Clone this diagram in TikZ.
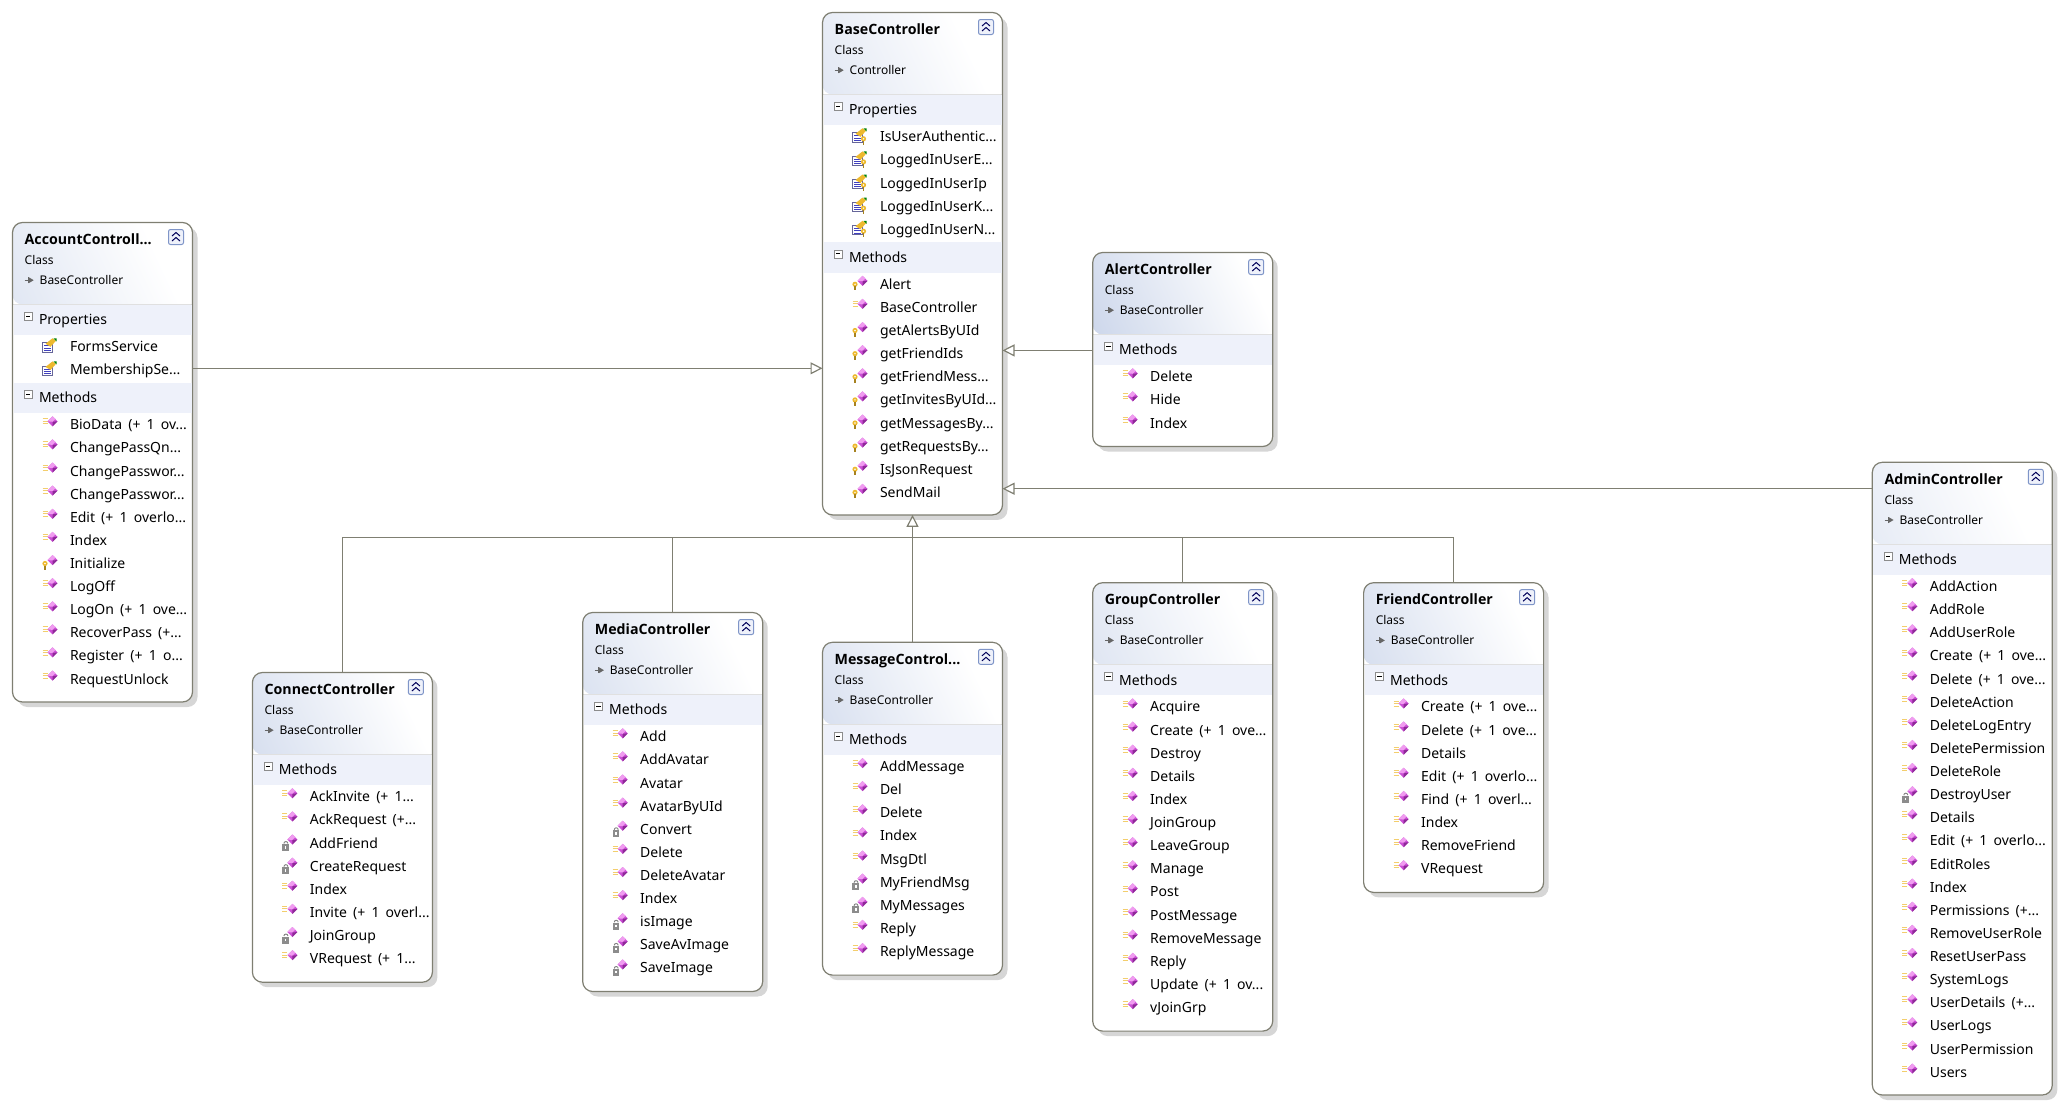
\documentclass[tikz,border=0pt]{standalone}
\usepackage{fontspec}
\setmainfont{Noto Sans}[WordSpace=1.7]
\newfontfamily\titlefont{Open Sans}[BoldFont={Open Sans Bold}]
\usetikzlibrary{arrows.meta,positioning,shadows}

\definecolor{framegray}{HTML}{7F7F72}
\definecolor{shadowgray}{HTML}{D6D6D6}
\definecolor{headblue}{HTML}{C8D3E9}
\definecolor{bandblue}{HTML}{EEF1FA}
\definecolor{diamondpink}{HTML}{CC4FD6}
\definecolor{diamondlight}{HTML}{F09CF0}
\definecolor{diamonddark}{HTML}{8E2A98}
\definecolor{keyyellow}{HTML}{EDB92E}
\definecolor{buttonblue}{HTML}{7F95C8}

% small pictures that sit in front of the text lines
\newsavebox{\pubicon}
\newsavebox{\proticon}
\newsavebox{\privicon}
\newsavebox{\propicon}
\newsavebox{\propkicon}
\newsavebox{\inhicon}
\newsavebox{\foldicon}
\newcommand{\gem}{%
  \fill[diamondpink] (11,5.5) -- (16,10.5) -- (11,15.5) -- (6,10.5) -- cycle;
  \fill[diamondlight] (11,15.5) -- (6,10.5) -- (11,10) -- (14,13) -- cycle;
  \fill[diamonddark] (11,5.5) -- (16,10.5) -- (11,10) -- cycle;}
\newcommand{\keyshape}[2]{%
  \fill[keyyellow] (#1,#2) circle (2.6);
  \fill[white] (#1,#2) circle (0.8);
  \draw[keyyellow!70!black,line width=1.3pt] (#1,#2-2) -- (#1,#2-6);}
\sbox{\pubicon}{\tikz[x=1pt,y=1pt,baseline=(current bounding box.south)]{
  \useasboundingbox (0,0) rectangle (16,16);
  \draw[keyyellow!70!white,line width=.9pt] (1,8) -- (6,8) (1,10.5) -- (6,10.5) (1,13) -- (6,13);
  \gem}}
\sbox{\proticon}{\tikz[x=1pt,y=1pt,baseline=(current bounding box.south)]{
  \useasboundingbox (0,0) rectangle (16,16);
  \keyshape{3.5}{7}
  \gem}}
\sbox{\privicon}{\tikz[x=1pt,y=1pt,baseline=(current bounding box.south)]{
  \useasboundingbox (0,0) rectangle (16,16);
  \draw[gray,line width=.9pt] (2.5,6.5) arc (180:0:2);
  \fill[black!45] (0.8,-1) rectangle (7.7,6);
  \fill[white] (3.6,1.5) rectangle (5,4);
  \gem}}
\sbox{\propicon}{\tikz[x=1pt,y=1pt,baseline=(current bounding box.south)]{
  \useasboundingbox (0,0) rectangle (16,16);
  \draw[fill=white,draw=gray!80!blue,line width=.8pt] (0.5,1.5) rectangle (11,11);
  \draw[blue!50!gray,line width=.8pt] (2.5,8) -- (9,8) (2.5,5.5) -- (9,5.5) (2.5,3.3) -- (9,3.3);
  \fill[keyyellow] (4,10) -- (11,15.5) -- (14.5,13) -- (9,7) -- cycle;
  \fill[green!50!black] (12,15.5) -- (15,15.5) -- (15,12.5) -- cycle;}}
\sbox{\propkicon}{\tikz[x=1pt,y=1pt,baseline=(current bounding box.south)]{
  \useasboundingbox (0,0) rectangle (16,16);
  \draw[fill=white,draw=gray!80!blue,line width=.8pt] (0.5,1.5) rectangle (11,11);
  \draw[blue!50!gray,line width=.8pt] (2.5,8) -- (9,8) (2.5,5.5) -- (9,5.5) (2.5,3.3) -- (9,3.3);
  \fill[keyyellow] (4,10) -- (11,15.5) -- (14.5,13) -- (9,7) -- cycle;
  \fill[green!50!black] (12,15.5) -- (15,15.5) -- (15,12.5) -- cycle;
  \keyshape{12}{5}}}
\sbox{\inhicon}{\tikz[x=1pt,y=1pt,baseline=(current bounding box.south)]{
  \useasboundingbox (0,0) rectangle (9,9);
  \draw[black!60,line width=1pt] (0,4) -- (5,4) (3.5,1) -- (3.5,7);
  \fill[black!60] (4,1) -- (9,4) -- (4,7) -- cycle;}}
\sbox{\foldicon}{\tikz[x=1pt,y=1pt,baseline=(current bounding box.south)]{
  \useasboundingbox (0,0) rectangle (9,9);
  \draw[fill=white,draw=black!45,line width=.8pt] (-0.3,0.5) rectangle (7.7,8.5);
  \draw[black,line width=1pt] (1.5,4.5) -- (5.9,4.5);}}
\newcommand{\pubm}{\strut\makebox[28.5pt][l]{\raisebox{-2pt}{\usebox{\pubicon}}}}
\newcommand{\protm}{\strut\makebox[28.5pt][l]{\raisebox{-2pt}{\usebox{\proticon}}}}
\newcommand{\privm}{\strut\makebox[28.5pt][l]{\raisebox{-2pt}{\usebox{\privicon}}}}
\newcommand{\propi}{\strut\makebox[28.5pt][l]{\raisebox{-2pt}{\usebox{\propicon}}}}
\newcommand{\propk}{\strut\makebox[28.5pt][l]{\raisebox{-2pt}{\usebox{\propkicon}}}}
\newcommand{\inh}{\makebox[15pt][l]{\usebox{\inhicon}}}
\newcommand{\foldm}{\makebox[14.5pt][l]{\raisebox{4pt}{\usebox{\foldicon}}}}
\newcommand{\classname}[1]{\strut{\titlefont\bfseries\fontsize{14.2}{20}\selectfont #1}}

\begin{document}
\begin{tikzpicture}
[x=1pt, y=1pt,
% STYLES
% The classbox style is used to draw the frame of a class with its header
classbox/.style={rectangle, draw=framegray, line width=1.2pt, fill=white, rounded corners=10pt, anchor=north west, minimum width=180pt, inner sep=0pt, outer sep=0pt,
  drop shadow={fill=shadowgray, opacity=1, shadow xshift=5pt, shadow yshift=-5pt},
  path picture={
    \shade[bottom color=headblue, top color=white, shading angle=-65] (path picture bounding box.north west) rectangle ([yshift=-82pt]path picture bounding box.north east);
    \draw[black!12, line width=.8pt] ([yshift=-82pt]path picture bounding box.north west) -- ([yshift=-82pt]path picture bounding box.north east);
    \draw[buttonblue, fill=bandblue, line width=1pt, rounded corners=2pt] ([shift={(156pt,-7pt)}]path picture bounding box.north west) rectangle ([shift={(171pt,-22pt)}]path picture bounding box.north west);
    \draw[blue!35!black, line width=1pt, sharp corners] ([shift={(159.5pt,-13.5pt)}]path picture bounding box.north west) -- ([shift={(163.5pt,-10pt)}]path picture bounding box.north west) -- ([shift={(167.5pt,-13.5pt)}]path picture bounding box.north west);
    \draw[blue!35!black, line width=1pt, sharp corners] ([shift={(159.5pt,-18.5pt)}]path picture bounding box.north west) -- ([shift={(163.5pt,-15pt)}]path picture bounding box.north west) -- ([shift={(167.5pt,-18.5pt)}]path picture bounding box.north west);
  }},
% The classhead style is used to write name, kind and base class
classhead/.style={inner sep=0pt, align=left, font=\fontsize{12}{20}\selectfont},
% The band style is used to draw the name of a compartment
band/.style={rectangle, fill=bandblue, inner xsep=11pt, inner ysep=0pt, text width=156pt, align=left, minimum height=30.5pt, text height=12pt, text depth=2pt, font=\fontsize{14}{20}\selectfont},
% The members style is used to list the lines of a compartment
members/.style={inner sep=0pt, align=left, font=\fontsize{14}{23.12}\selectfont},
% The inherit style is used to draw the links to the base class
inherit/.style={color=framegray, line width=1.2pt},
inherittip/.style={inherit, -{Triangle[open, fill=white, length=12pt, width=12pt]}}]

\useasboundingbox (0,0) rectangle (2071,-1106);

% Draw classes
\node [classbox, minimum height=502.4pt] (base) at (822.5,-12.5) {};
\node [classbox, minimum height=479.5pt] (account) at (12.5,-222.5) {};
\node [classbox, minimum height=194pt] (alert) at (1092.7,-252.5) {};
\node [classbox, minimum height=309.7pt] (connect) at (252.4,-672.5) {};
\node [classbox, minimum height=379pt] (media) at (582.7,-612.5) {};
\node [classbox, minimum height=332.8pt] (message) at (822.5,-642.3) {};
\node [classbox, minimum height=448.4pt] (group) at (1092.7,-582.7) {};
\node [classbox, minimum height=309.7pt] (friend) at (1363.6,-582.7) {};
\node [classbox, minimum height=632.7pt] (admin) at (1872.3,-462.3) {};

%%%%%%%%%%%%%%%
% Change data from here

% base
\node [classhead, below right=7.5pt and 12pt of base.north west] (base-head) {\classname{BaseController}\\
Class\\
\inh Controller};
\node [band, below=82pt of base.north] (base-props) {\foldm Properties};
\node [members, below right=0pt and 28pt of base-props.south west] {\propk IsUserAuthentic...\\
\propk LoggedInUserE...\\
\propk LoggedInUserIp\\
\propk LoggedInUserK...\\
\propk LoggedInUserN...};
\node [band, below=229.5pt of base.north] (base-meth) {\foldm Methods};
\node [members, below right=0pt and 28pt of base-meth.south west] {\protm Alert\\
\pubm BaseController\\
\protm getAlertsByUId\\
\protm getFriendIds\\
\protm getFriendMess...\\
\protm getInvitesByUId...\\
\protm getMessagesBy...\\
\protm getRequestsBy...\\
\protm IsJsonRequest\\
\protm SendMail};

% account
\node [classhead, below right=7.5pt and 12pt of account.north west] (account-head) {\classname{AccountControll...}\\
Class\\
\inh BaseController};
\node [band, below=82pt of account.north] (account-props) {\foldm Properties};
\node [members, below right=0pt and 28pt of account-props.south west] {\propi FormsService\\
\propi MembershipSe...};
\node [band, below=160pt of account.north] (account-meth) {\foldm Methods};
\node [members, below right=0pt and 28pt of account-meth.south west] {\pubm BioData (+ 1 ov...\\
\pubm ChangePassQn...\\
\pubm ChangePasswor...\\
\pubm ChangePasswor...\\
\pubm Edit (+ 1 overlo...\\
\pubm Index\\
\protm Initialize\\
\pubm LogOff\\
\pubm LogOn (+ 1 ove...\\
\pubm RecoverPass (+...\\
\pubm Register (+ 1 o...\\
\pubm RequestUnlock};

% alert
\node [classhead, below right=7.5pt and 12pt of alert.north west] (alert-head) {\classname{AlertController}\\
Class\\
\inh BaseController};
\node [band, below=82pt of alert.north] (alert-meth) {\foldm Methods};
\node [members, below right=0pt and 28pt of alert-meth.south west] {\pubm Delete\\
\pubm Hide\\
\pubm Index};

% connect
\node [classhead, below right=7.5pt and 12pt of connect.north west] (connect-head) {\classname{ConnectController}\\
Class\\
\inh BaseController};
\node [band, below=82pt of connect.north] (connect-meth) {\foldm Methods};
\node [members, below right=0pt and 28pt of connect-meth.south west] {\pubm AckInvite (+ 1...\\
\pubm AckRequest (+...\\
\privm AddFriend\\
\privm CreateRequest\\
\pubm Index\\
\pubm Invite (+ 1 overl...\\
\privm JoinGroup\\
\pubm VRequest (+ 1...};

% media
\node [classhead, below right=7.5pt and 12pt of media.north west] (media-head) {\classname{MediaController}\\
Class\\
\inh BaseController};
\node [band, below=82pt of media.north] (media-meth) {\foldm Methods};
\node [members, below right=0pt and 28pt of media-meth.south west] {\pubm Add\\
\pubm AddAvatar\\
\pubm Avatar\\
\pubm AvatarByUId\\
\privm Convert\\
\pubm Delete\\
\pubm DeleteAvatar\\
\pubm Index\\
\privm isImage\\
\privm SaveAvImage\\
\privm SaveImage};

% message
\node [classhead, below right=7.5pt and 12pt of message.north west] (message-head) {\classname{MessageControl...}\\
Class\\
\inh BaseController};
\node [band, below=82pt of message.north] (message-meth) {\foldm Methods};
\node [members, below right=0pt and 28pt of message-meth.south west] {\pubm AddMessage\\
\pubm Del\\
\pubm Delete\\
\pubm Index\\
\pubm MsgDtl\\
\privm MyFriendMsg\\
\privm MyMessages\\
\pubm Reply\\
\pubm ReplyMessage};

% group
\node [classhead, below right=7.5pt and 12pt of group.north west] (group-head) {\classname{GroupController}\\
Class\\
\inh BaseController};
\node [band, below=82pt of group.north] (group-meth) {\foldm Methods};
\node [members, below right=0pt and 28pt of group-meth.south west] {\pubm Acquire\\
\pubm Create (+ 1 ove...\\
\pubm Destroy\\
\pubm Details\\
\pubm Index\\
\pubm JoinGroup\\
\pubm LeaveGroup\\
\pubm Manage\\
\pubm Post\\
\pubm PostMessage\\
\pubm RemoveMessage\\
\pubm Reply\\
\pubm Update (+ 1 ov...\\
\pubm vJoinGrp};

% friend
\node [classhead, below right=7.5pt and 12pt of friend.north west] (friend-head) {\classname{FriendController}\\
Class\\
\inh BaseController};
\node [band, below=82pt of friend.north] (friend-meth) {\foldm Methods};
\node [members, below right=0pt and 28pt of friend-meth.south west] {\pubm Create (+ 1 ove...\\
\pubm Delete (+ 1 ove...\\
\pubm Details\\
\pubm Edit (+ 1 overlo...\\
\pubm Find (+ 1 overl...\\
\pubm Index\\
\pubm RemoveFriend\\
\pubm VRequest};

% admin
\node [classhead, below right=7.5pt and 12pt of admin.north west] (admin-head) {\classname{AdminController}\\
Class\\
\inh BaseController};
\node [band, below=82pt of admin.north] (admin-meth) {\foldm Methods};
\node [members, below right=0pt and 28pt of admin-meth.south west] {\pubm AddAction\\
\pubm AddRole\\
\pubm AddUserRole\\
\pubm Create (+ 1 ove...\\
\pubm Delete (+ 1 ove...\\
\pubm DeleteAction\\
\pubm DeleteLogEntry\\
\pubm DeletePermission\\
\pubm DeleteRole\\
\privm DestroyUser\\
\pubm Details\\
\pubm Edit (+ 1 overlo...\\
\pubm EditRoles\\
\pubm Index\\
\pubm Permissions (+...\\
\pubm RemoveUserRole\\
\pubm ResetUserPass\\
\pubm SystemLogs\\
\pubm UserDetails (+...\\
\pubm UserLogs\\
\pubm UserPermission\\
\pubm Users};

%%%%%%%%%%%%%%%%

% Draw the links to the base class
\coordinate (account-out) at ([yshift=-145.8pt]account.north east);
\coordinate (alert-out) at ([yshift=-97.9pt]alert.north west);
\coordinate (admin-out) at ([yshift=-26.4pt]admin.north west);
\coordinate (bus) at ([yshift=-22.8pt]base.south);
\path[inherit]
(connect.north) edge[to path={|- (\tikztotarget)}] (bus)
(media.north) edge[to path={|- (\tikztotarget)}] (bus)
(group.north) edge[to path={|- (\tikztotarget)}] (bus)
(friend.north) edge[to path={|- (\tikztotarget)}] (bus);
\path[inherittip]
(account-out) edge (account-out -| base.west)
(alert-out) edge (alert-out -| base.east)
(admin-out) edge (admin-out -| base.east)
(message.north) edge (base.south);

\end{tikzpicture}
\end{document}
